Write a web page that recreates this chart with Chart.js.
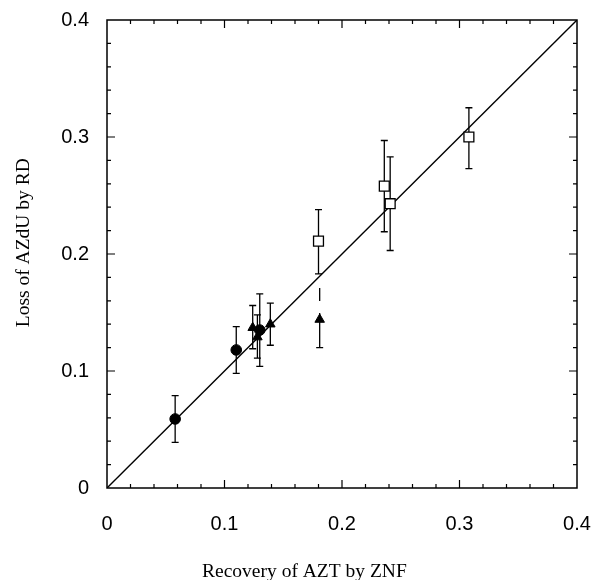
<!DOCTYPE html>
<html>
<head>
<meta charset="utf-8">
<script src="https://cdn.jsdelivr.net/npm/chart.js@4"></script>
<style>
  html, body { margin: 0; padding: 0; background: #fff; }
  #wrap { width: 593px; height: 580px; }
</style>
</head>
<body>
<div id="wrap"><canvas id="recovery-chart"></canvas></div>
<script>
// recovery vs loss scatter

// filled circles
const circleX  = [0.058, 0.110, 0.130];
const circleY  = [0.059, 0.118, 0.135];
const circleLo = [0.039, 0.098, 0.104];
const circleHi = [0.079, 0.138, 0.166];

// filled triangles
const triX  = [0.124, 0.128, 0.139, 0.181];
const triY  = [0.137, 0.129, 0.140, 0.144];
const triLo = [0.119, 0.111, 0.122, 0.120];
const triHi = [0.156, 0.148, 0.158, 0.171];

// open squares
const squareX  = [0.180, 0.236, 0.241, 0.308];
const squareY  = [0.211, 0.258, 0.243, 0.300];
const squareLo = [0.183, 0.219, 0.203, 0.273];
const squareHi = [0.238, 0.297, 0.283, 0.325];

// line of identity
const lineX = [0, 0.4];
const lineY = [0, 0.4];

const xTitle = 'Recovery of AZT by ZNF';
const yTitle = 'Loss of AZdU by RD';

const axisMin = 0;
const axisMax = 0.4;
const majorStep = 0.1;
const minorStep = 0.02;

function toPoints(xs, ys) {
    return xs.map((x, i) => ({ x: x, y: ys[i] }));
}

// vertical error bars with caps, drawn under the markers
const errorBars = {
    id: 'errorBars',
    beforeDatasetsDraw(chart) {
        const ctx = chart.ctx;
        const yScale = chart.scales.y;
        chart.data.datasets.forEach((ds, i) => {
            if (!ds.errLo) return;
            const meta = chart.getDatasetMeta(i);
            meta.data.forEach((pt, j) => {
                const x = pt.x;
                const top = yScale.getPixelForValue(ds.errHi[j]);
                const bot = yScale.getPixelForValue(ds.errLo[j]);
                const dashedTop = ds.dashedUpper && ds.dashedUpper.includes(j);
                ctx.save();
                ctx.strokeStyle = '#000';
                ctx.lineWidth = 1.3;
                // lower half + cap
                ctx.beginPath();
                ctx.moveTo(x, pt.y);
                ctx.lineTo(x, bot);
                ctx.moveTo(x - 3.5, bot);
                ctx.lineTo(x + 3.5, bot);
                ctx.stroke();
                // upper half
                ctx.beginPath();
                if (dashedTop) {
                    ctx.setLineDash([13, 12]);
                    ctx.moveTo(x, top);
                    ctx.lineTo(x, pt.y);
                } else {
                    ctx.moveTo(x, top);
                    ctx.lineTo(x, pt.y);
                    ctx.moveTo(x - 3.5, top);
                    ctx.lineTo(x + 3.5, top);
                }
                ctx.stroke();
                ctx.restore();
            });
        });
    }
};

// box frame with inward ticks on all four sides, plus axis titles
const frameTicks = {
    id: 'frameTicks',
    afterDatasetsDraw(chart) {
        const ctx = chart.ctx;
        const a = chart.chartArea;
        const xs = chart.scales.x;
        const ys = chart.scales.y;
        ctx.save();
        ctx.strokeStyle = '#000';
        ctx.lineWidth = 1.5;
        ctx.strokeRect(a.left, a.top, a.right - a.left, a.bottom - a.top);
        ctx.lineWidth = 1.2;
        ctx.beginPath();
        const n = Math.round((axisMax - axisMin) / minorStep);
        for (let k = 1; k < n; k++) {
            const v = axisMin + k * minorStep;
            const len = (k % 5 === 0) ? 8 : 4;
            const px = xs.getPixelForValue(v);
            const py = ys.getPixelForValue(v);
            ctx.moveTo(px, a.bottom);
            ctx.lineTo(px, a.bottom - len);
            ctx.moveTo(px, a.top);
            ctx.lineTo(px, a.top + len);
            ctx.moveTo(a.left, py);
            ctx.lineTo(a.left + len, py);
            ctx.moveTo(a.right, py);
            ctx.lineTo(a.right - len, py);
        }
        ctx.stroke();

        // axis titles (serif, placed like the original figure)
        ctx.fillStyle = '#000';
        ctx.font = '19.5px "Liberation Serif"';
        ctx.textAlign = 'center';
        ctx.textBaseline = 'alphabetic';
        ctx.fillText(xTitle, a.left + (a.right - a.left) * 0.42, 577);
        ctx.translate(29, a.top + (a.bottom - a.top) * 0.476);
        ctx.rotate(-Math.PI / 2);
        ctx.fillText(yTitle, 0, 0);
        ctx.restore();
    }
};

const tickFont = { family: 'Liberation Sans', size: 20 };

const data = {
    datasets: [
        {
            label: 'identity',
            data: toPoints(lineX, lineY),
            showLine: true,
            borderColor: '#000',
            borderWidth: 1.4,
            pointRadius: 0,
            order: 10
        },
        {
            label: 'circles',
            data: toPoints(circleX, circleY),
            errLo: circleLo,
            errHi: circleHi,
            pointStyle: 'circle',
            pointRadius: 5.3,
            backgroundColor: '#000',
            borderColor: '#000',
            borderWidth: 1,
            order: 1
        },
        {
            label: 'triangles',
            data: toPoints(triX, triY),
            errLo: triLo,
            errHi: triHi,
            dashedUpper: [3],
            pointStyle: 'triangle',
            pointRadius: 5.5,
            backgroundColor: '#000',
            borderColor: '#000',
            borderWidth: 1,
            order: 1
        },
        {
            label: 'squares',
            data: toPoints(squareX, squareY),
            errLo: squareLo,
            errHi: squareHi,
            pointStyle: 'rect',
            pointRadius: 7,
            backgroundColor: '#fff',
            borderColor: '#000',
            borderWidth: 1.3,
            order: 1
        }
    ]
};

const config = {
    type: 'scatter',
    data,
    options: {
        responsive: true,
        maintainAspectRatio: false,
        animation: false,
        layout: {
            padding: { left: 13, top: 20, right: 16, bottom: 0 }
        },
        plugins: {
            legend: { display: false },
            tooltip: { enabled: false }
        },
        scales: {
            x: {
                type: 'linear',
                min: axisMin,
                max: axisMax,
                grid: { display: false, drawTicks: false },
                border: { display: false },
                ticks: { stepSize: majorStep, padding: 24, color: '#000', font: tickFont },
                afterFit(scale) {
                    scale.height = 92;
                    scale.paddingLeft = 0;
                    scale.paddingRight = 0;
                }
            },
            y: {
                type: 'linear',
                min: axisMin,
                max: axisMax,
                grid: { display: false, drawTicks: false },
                border: { display: false },
                ticks: { stepSize: majorStep, padding: 18, color: '#000', font: tickFont },
                afterFit(scale) {
                    scale.width = 94;
                    scale.paddingTop = 0;
                    scale.paddingBottom = 0;
                }
            }
        }
    },
    plugins: [errorBars, frameTicks]
};

var recoveryChart = new Chart(
    document.getElementById('recovery-chart'),
    config
);
</script>
</body>
</html>
